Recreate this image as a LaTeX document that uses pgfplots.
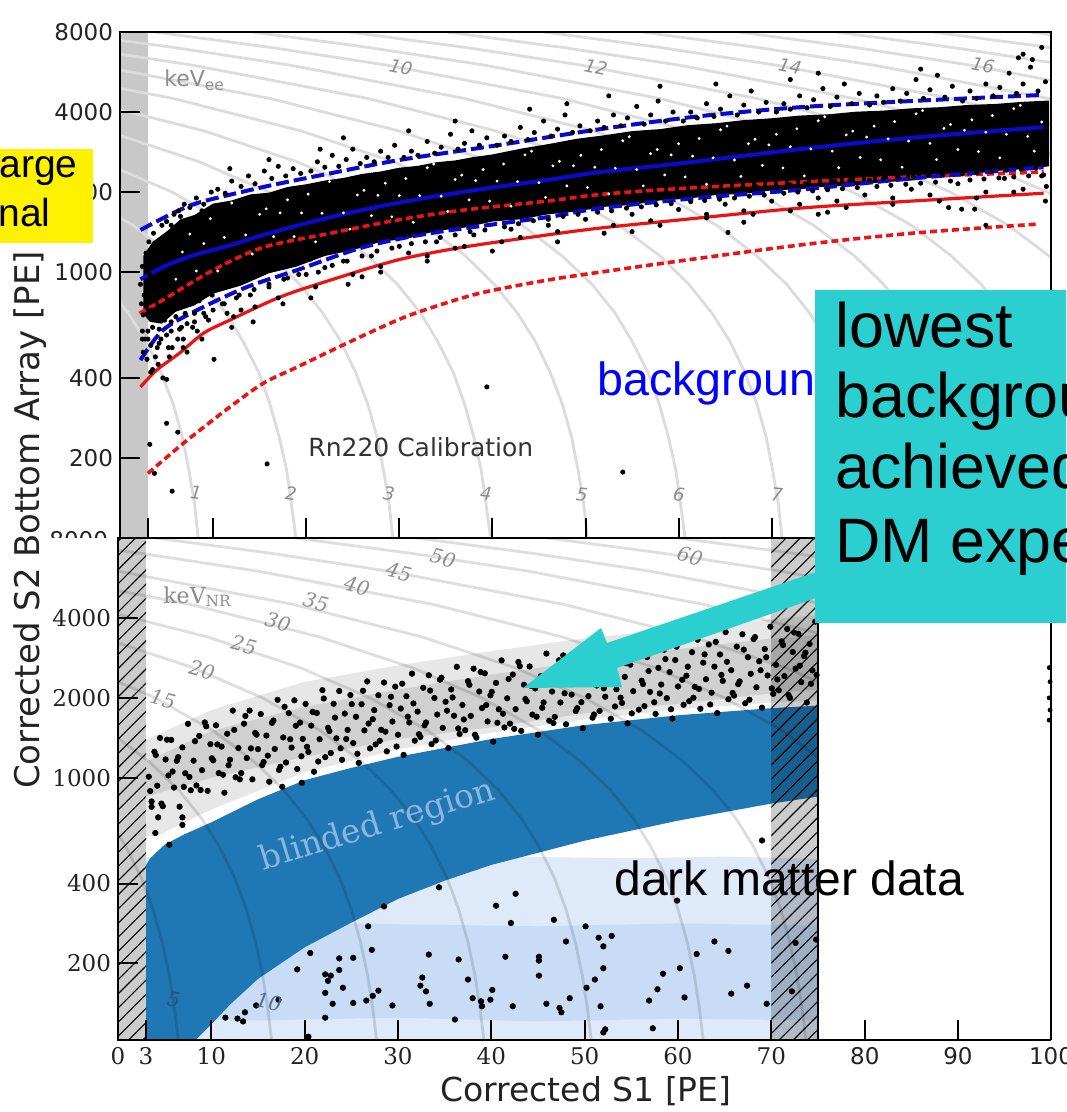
\documentclass[border=0pt]{standalone}
\usepackage{fontspec}
\setmainfont{DejaVu Sans}
\newfontfamily\seriff{DejaVu Serif}
\newfontfamily\arial{Liberation Sans}
\usepackage{pgfplots}
\pgfplotsset{compat=1.18}
\usetikzlibrary{patterns.meta}
\definecolor{cyanbox}{RGB}{44,207,208}
\definecolor{mplblue}{RGB}{31,119,180}
\definecolor{lbout}{RGB}{222,234,249}
\definecolor{lbin}{RGB}{200,221,245}
\definecolor{grout}{RGB}{231,231,231}
\definecolor{grin}{RGB}{208,208,208}
\definecolor{bandgray}{RGB}{200,200,200}
\definecolor{eeline}{RGB}{220,220,220}
\definecolor{bline}{RGB}{10,10,205}
\definecolor{rline}{RGB}{235,20,20}
\definecolor{labgray}{RGB}{140,140,140}
\definecolor{txt}{RGB}{35,35,35}
\definecolor{blindtxt}{RGB}{140,182,222}
\tikzset{nrl/.style={black, opacity=0.13, line width=1.4pt},
         eel/.style={eeline, line width=1.4pt}}
\pgfplotsset{myax/.style={scale only axis, anchor=south west, tick align=inside,
  major tick length=10pt, major tick style={black,line width=1pt},
  axis line style={line width=1pt}, xminorticks=false, yminorticks=false,
  /pgf/number format/assume math mode=true, tick label style={text=txt}}}
\begin{document}
\begin{tikzpicture}[x=0.5pt,y=-0.5pt]
\path[use as bounding box] (0,0) rectangle (1066,1112);
\clip (0,0) rectangle (1066,1112);
% ---------- axis C (right lower frame) ----------
\begin{axis}[myax, at={(60pt,-520pt)}, width=465.5pt, height=251pt,
  xmin=0, xmax=100, ymode=log, ymin=103, ymax=8000,
  axis x line*=bottom, axis y line*=right, ytick=\empty,
  xtick={80,90,100},
  xticklabel style={font=\fontsize{11.5}{13}\selectfont}]
\addplot[only marks, mark=*, mark size=1pt, black] coordinates {(99.8,2600)(99.9,2300)(99.8,2000)(99.9,1800)(99.8,1650)};
\end{axis}
% ---------- axis A (top, Rn220) ----------
\begin{axis}[myax, at={(60pt,-269pt)}, width=465.5pt, height=253pt,
  xmin=0, xmax=100, ymode=log, ymin=100, ymax=8000,
  xtick={3,10,20,30,40,50,60,70,80,90,100}, xticklabels={,,,,,,,,,,},
  ytick={200,400,1000,2000,4000,8000}, yticklabels={200,400,1000,2000,4000,8000},
  xtick pos=bottom, ytick pos=left, axis on top,
  yticklabel style={font=\fontsize{11.5}{13}\selectfont}]
\addplot[fill=bandgray, draw=none] coordinates {(0,100)(3,100)(3,8000)(0,8000)} -- cycle;
\addplot[eel] coordinates {(-15.4,2000)(-9.1,1500)(-4.7,1150)(-1.6,900)(0.9,700)(2.8,550)(4.4,420)(5.7,320)(6.7,240)(7.4,180)(8,135)(8.4,100)};
\addplot[eel] coordinates {(-12.4,2600)(-4.9,2000)(1.4,1500)(5.7,1150)(8.9,900)(11.4,700)(13.2,550)(14.9,420)(16.1,320)(17.1,240)(17.9,180)(18.4,135)(18.9,100)};
\addplot[eel] coordinates {(-12,3400)(-2,2600)(5.6,2000)(11.8,1500)(16.2,1150)(19.3,900)(21.8,700)(23.7,550)(25.3,420)(26.6,320)(27.6,240)(28.3,180)(28.9,135)(29.3,100)};
\addplot[eel] coordinates {(-15.3,4500)(-1.5,3400)(8.5,2600)(16,2000)(22.3,1500)(26.6,1150)(29.8,900)(32.3,700)(34.1,550)(35.8,420)(37,320)(38,240)(38.8,180)(39.3,135)(39.8,100)};
\addplot[eel] coordinates {(-23.6,6000)(-4.8,4500)(9,3400)(19,2600)(26.5,2000)(32.7,1500)(37.1,1150)(40.2,900)(42.7,700)(44.6,550)(46.2,420)(47.5,320)(48.5,240)(49.2,180)(49.8,135)(50.2,100)};
\addplot[eel] coordinates {(-13.1,6000)(5.7,4500)(19.4,3400)(29.4,2600)(36.9,2000)(43.2,1500)(47.5,1150)(50.7,900)(53.2,700)(55,550)(56.7,420)(57.9,320)(58.9,240)(59.7,180)(60.2,135)(60.7,100)};
\addplot[eel] coordinates {(-27.7,8000)(-15.2,7000)(-2.7,6000)(16.1,4500)(29.9,3400)(39.9,2600)(47.4,2000)(53.6,1500)(58,1150)(61.1,900)(63.6,700)(65.5,550)(67.1,420)(68.4,320)(69.4,240)(70.1,180)(70.7,135)(71.1,100)};
\addplot[eel] coordinates {(-17.2,8000)(-4.7,7000)(7.8,6000)(26.6,4500)(40.3,3400)(50.3,2600)(57.8,2000)(64.1,1500)(68.4,1150)(71.6,900)(74.1,700)(75.9,550)(77.6,420)(78.8,320)(79.8,240)(80.6,180)(81.1,135)(81.6,100)};
\addplot[eel] coordinates {(-6.8,8000)(5.75,7000)(18.3,6000)(37,4500)(50.8,3400)(60.8,2600)(68.3,2000)(74.5,1500)(78.9,1150)(82,900)(84.5,700)(86.4,550)(88,420)(89.3,320)(90.3,240)(91,180)(91.6,135)(92,100)};
\addplot[eel] coordinates {(3.7,8000)(16.2,7000)(28.7,6000)(47.5,4500)(61.2,3400)(71.2,2600)(78.7,2000)(85,1500)(89.3,1150)(92.5,900)(95,700)(96.8,550)(98.5,420)(99.7,320)(100.7,240)(101.5,180)(102,135)(102.5,100)};
\addplot[eel] coordinates {(14.2,8000)(26.65,7000)(39.2,6000)(57.9,4500)(71.7,3400)(81.7,2600)(89.2,2000)(95.4,1500)(99.8,1150)(102.9,900)(105.4,700)};
\addplot[eel] coordinates {(24.6,8000)(37.1,7000)(49.6,6000)(68.4,4500)(82.1,3400)(92.1,2600)(99.6,2000)(105.9,1500)(110.2,1150)};
\addplot[eel] coordinates {(35.1,8000)(47.55,7000)(60.1,6000)(78.8,4500)(92.6,3400)(102.6,2600)(110.1,2000)};
\addplot[eel] coordinates {(45.5,8000)(58,7000)(70.5,6000)(89.3,4500)(103,3400)(113,2600)};
\addplot[eel] coordinates {(56,8000)(68.45,7000)(81,6000)(99.7,4500)(113.5,3400)};
\addplot[eel] coordinates {(66.4,8000)(78.9,7000)(91.4,6000)(110.2,4500)};
\addplot[eel] coordinates {(76.9,8000)(89.35,7000)(101.9,6000)};
\addplot[eel] coordinates {(87.3,8000)(99.8,7000)(112.3,6000)};
\addplot[eel] coordinates {(97.8,8000)(110.25,7000)(122.8,6000)};
% dense core of the ER band
\addplot[fill=black, draw=none] coordinates {(2.5,1150)(3.5,1300)(5,1420)(6.5,1580)(8,1640)(10,1810)(12,1860)(14,1960)(16,1990)(18,2090)(20,2140)(22,2210)(24,2260)(26,2340)(28,2390)(30,2470)(32,2510)(34,2590)(36,2630)(38,2710)(40,2770)(43,2910)(46,3030)(49,3170)(52,3270)(55,3390)(58,3450)(61,3570)(64,3630)(67,3730)(70,3790)(73,3880)(76,3920)(79,4010)(82,4050)(85,4130)(88,4170)(91,4250)(94,4290)(97,4370)(99.8,4420)
(99.8,2500)(97,2440)(94,2400)(91,2320)(88,2290)(85,2210)(82,2180)(79,2120)(76,2100)(73,2050)(70,2030)(67,1970)(64,1950)(61,1890)(58,1860)(55,1790)(52,1760)(49,1690)(46,1650)(43,1580)(40,1550)(37,1470)(34,1430)(31,1340)(28,1300)(25,1210)(22,1150)(19,1050)(16,990)(13,890)(10,830)(8,750)(6,710)(4.5,640)(3.2,650)(2.5,700)} -- cycle;
% white gaps inside the dense core
\addplot[only marks, mark=*, mark size=0.5pt, white] coordinates {
(6,940)(7.5,1390)(9,1280)(10.5,1010)(12,1820)(13.5,1380)(15,1650)(16.5,1360)(18,1870)(19.5,1670)(21,1300)(22.5,2190)(24,1670)(25.5,1950)(27,1630)(28.5,2160)(30,1940)(31.5,1540)(33,2470)(34.5,1930)(36,2230)(37.5,1870)(39,2430)(40.5,2200)(42,1770)(43.5,2760)(45,2170)(46.5,2510)(48,2110)(49.5,2750)(51,2480)(52.5,1970)(54,3120)(55.5,2430)(57,2790)(58.5,2320)(60,3040)(61.5,2730)(63,2140)(64.5,3430)(66,2640)(67.5,3040)(69,2520)(70.5,3300)(72,2960)(73.5,2300)(75,3710)(76.5,2850)(78,3280)(79.5,2700)(81,3540)(82.5,3170)(84,2480)(85.5,3940)(87,3050)(88.5,3470)(90,2890)(91.5,3740)(93,3360)(94.5,2690)(96,4120)(97.5,3240)(99,3670)
(6.7,1190)(8.2,1010)(9.7,1590)(11.2,1350)(12.7,1930)(14.2,1170)(15.7,1730)(17.2,1670)(18.7,1360)(20.2,1965)(21.7,1665)(23.2,2265)(24.7,1450)(26.2,2030)(27.7,1945)(29.2,1615)(30.7,2250)(32.2,1940)(33.7,2550)(35.2,1690)(36.7,2315)(38.2,2210)(39.7,1850)(41.2,2550)(42.7,2190)(44.2,2850)(45.7,1910)(47.2,2610)(48.7,2510)(50.2,2080)(51.7,2890)(53.2,2460)(54.7,3230)(56.2,2110)(57.7,2890)(59.2,2760)(60.7,2280)(62.2,3180)(63.7,2690)(65.2,3540)(66.7,2290)(68.2,3160)(69.7,3010)(71.2,2465)(72.7,3460)(74.2,2905)(75.7,3840)(77.2,2470)(78.7,3390)(80.2,3220)(81.7,2645)(83.2,3680)(84.7,3110)(86.2,4050)(87.7,2650)(89.2,3590)(90.7,3420)(92.2,2840)(93.7,3880)(95.2,3300)(96.7,4240)(98.2,2850)};
% scattered events
\addplot[only marks, mark=*, mark size=1.05pt, black] coordinates {
(2.2,900)(2.4,1050)(2.3,760)(2.6,820)(2.8,1180)(2.5,690)(3.0,600)(3.2,980)(3.1,1300)(2.7,560)(3.4,720)(3.6,1400)(3.3,530)(3.8,480)(4.0,1150)(4.2,610)(4.5,1500)(4.4,560)(4.8,660)(5.0,1550)(5.2,520)(5.5,600)(5.8,1650)(6.0,680)(6.3,1700)(6.6,620)(4.1,450)(2.9,470)(3.5,430)(2.4,600)
(2.4,560)(4.6,400)(5.0,395)(10.1,470)(5.0,270)(6.2,250)(3.2,225)(3.7,175)(5.6,150)(15.8,190)(39.4,370)(54,177)(14.3,650)(12.2,680)(7.2,500)(8.3,600)(3.3,420)(4.0,520)
(5.5,1500)(6.5,1620)(7.5,1750)(8.2,1900)(9,1800)(9.8,2000)(8.8,1700)(6.9,1800)
(10.5,2050)(11.3,1980)(12,2200)(13,2100)(13.8,2300)(14.5,2150)(15.5,2400)(16.3,2250)(17,2500)(17.8,2300)(18.6,2450)(19.4,2350)(11.8,2450)(16,2650)
(20.5,2400)(21.2,2600)(22,2480)(22.8,2750)(23.5,2500)(24.3,2650)(25,2900)(25.8,2560)(26.5,2700)(27.3,2600)(28,2850)(28.8,2700)(29.5,3000)(21.5,2900)(24,3200)
(30.5,2700)(31.3,2850)(32,2750)(33,3100)(33.8,2800)(34.5,2950)(35.5,3300)(36.3,2900)(37,3050)(37.8,3400)(38.6,3000)(39.4,3200)(31,3400)(36,3700)
(40.5,3000)(41.3,3250)(42,3100)(43,3500)(43.8,3150)(44.5,3350)(45.5,3700)(46.3,3250)(47,3450)(47.8,3900)(48.6,3350)(49.4,3550)(44,4100)(48,4300)
(50.5,3400)(51.3,3700)(52,3500)(53,3900)(53.8,3550)(54.5,3800)(55.5,4200)(56.3,3600)(57,3900)(57.8,4400)(58.6,3700)(59.4,4000)(52.5,4600)(58,5000)
(60.5,3700)(61.3,4000)(62,3800)(63,4300)(63.8,3850)(64.5,4100)(65.5,4600)(66.3,3900)(67,4250)(67.8,4800)(68.6,4000)(69.4,4350)(64,5100)
(70.5,4000)(71.3,4300)(72,4100)(73,4600)(73.8,4150)(74.5,4450)(75.5,4900)(76.3,4200)(77,4550)(77.8,5100)(78.6,4300)(79.4,4700)(75,5600)(72,5300)
(80.5,4250)(81.3,4600)(82,4350)(83,4900)(83.8,4400)(84.5,4700)(85.5,5300)(86.3,4500)(87,4850)(87.8,5500)(88.6,4550)(89.4,5000)(86,5800)
(90.5,4400)(91.3,4800)(92,4500)(93,5100)(93.8,4600)(94.5,4950)(95.5,5600)(96.3,4700)(97,5100)(97.8,5900)(98.6,4800)(99.4,5200)(96.5,6400)(98,6300)(99,7000)(97,6600)
(5.5,650)(6.2,560)(7,700)(7.8,620)(8.5,780)(9.2,680)(9.9,820)(6.8,520)(8,700)
(10.5,880)(11.2,760)(12,900)(12.8,820)(13.6,980)(14.4,860)(15.2,1000)(16,900)(16.8,1060)(17.6,940)(18.4,1100)(19.2,980)(13,720)(17,800)
(20.5,1120)(21.3,1000)(22,1180)(22.8,1060)(23.6,1230)(24.4,1100)(25.2,1280)(26,1150)(26.8,1320)(27.6,1200)(28.4,1350)(29.2,1230)(21,880)(25,980)(28,1050)
(30.5,1380)(31.3,1280)(32,1420)(32.8,1300)(33.6,1450)(34.4,1350)(35.2,1500)(36,1380)(36.8,1520)(37.6,1420)(38.4,1560)(39.2,1440)(33,1150)(37,1250)
(40.5,1600)(41.3,1480)(42,1640)(42.8,1520)(43.6,1680)(44.4,1560)(45.2,1700)(46,1580)(46.8,1740)(47.6,1620)(48.4,1760)(49.2,1650)(43,1350)(47,1420)(41,1300)
(50.5,1780)(51.3,1680)(52,1820)(52.8,1700)(53.6,1860)(54.4,1740)(55.2,1880)(56,1760)(56.8,1920)(57.6,1790)(58.4,1940)(59.2,1810)(53,1500)(57,1560)(55,1420)
(60.5,1950)(61.3,1840)(62,1990)(62.8,1860)(63.6,2020)(64.4,1880)(65.2,2040)(66,1900)(66.8,2070)(67.6,1930)(68.4,2090)(69.2,1950)(63,1650)(67,1700)(65.3,1410)(67,1540)
(70.5,2100)(71.3,1980)(72,2130)(72.8,2000)(73.6,2150)(74.4,2020)(75.2,2170)(76,2040)(76.8,2190)(77.6,2060)(78.4,2210)(79.2,2080)(73,1800)(77,1850)(75,1650)(76,1680)
(80.5,2220)(81.3,2100)(82,2250)(82.8,2120)(83.6,2270)(84.4,2140)(85.2,2290)(86,2160)(86.8,2310)(87.6,2180)(88.4,2330)(89.2,2200)(83,1900)(87,1950)(89,1750)
(90.5,2340)(91.3,2220)(92,2370)(92.8,2240)(93.6,2400)(94.4,2260)(95.2,2420)(96,2280)(96.8,2440)(97.6,2300)(98.4,2460)(99.2,2320)(93,2000)(97,2050)(99.5,2100)(90.4,1725)(91.8,1725)(93,1500)(99.4,1850)
(2.5,500)(3,560)(3.5,620)(4.2,540)(5,580)(5.6,520)(6.4,610)(7.2,640)(8,650)(9,700)(10,720)(11,760)(12.5,800)(14,820)(16,880)(18,950)(20,980)(22,1040)(24,1100)(27,1150)(30,1250)(34,1300)(38,1380)(42,1450)(46,1500)(50,1580)(55,1650)(60,1720)(65,1800)(70,1850)(75,1900)(80,1950)(85,2050)(90,2150)(95,2250)(99,2300)
(8.8,560)(12,620)(17.5,760)(20.5,800)(24.5,900)(28,1000)(33,1100)(40,1200)(47,1300)(52,1400)(58,1500)(63,1600)(68,1650)(72,1700)(78,1750)(83,1800)(88,1850)(92,1900)(96,2000)(9.5,660)(14.5,740)(5.3,480)(6.8,560)(11.5,700)(26,960)(31,1180)(36,1230)};
% bands
\addplot[rline, line width=1.6pt, smooth] coordinates {(2.2,370)(4,430)(6.4,496)(9,590)(11.8,660)(17.2,806)(22.6,933)(29.8,1110)(36.8,1240)(45.9,1380)(51.6,1465)(60,1570)(73,1740)(85,1850)(99.2,1980)};
\addplot[rline, line width=1.8pt, dash pattern=on 3.5pt off 2pt, smooth] coordinates {(2.1,700)(4.6,785)(10,1017)(15.4,1240)(22.6,1400)(29.8,1570)(36.8,1710)(45.9,1850)(51.6,1960)(60,2060)(73,2180)(85,2280)(99.2,2380)};
\addplot[rline, line width=1.8pt, dash pattern=on 3.5pt off 2pt, smooth] coordinates {(3,175)(6.8,227)(11.8,311)(15.4,382)(19,439)(24.4,541)(29.8,660)(33.3,732)(38.7,834)(45.9,933)(51.6,1000)(60,1100)(73,1264)(85,1400)(98.5,1515)};
\addplot[bline, line width=2pt, smooth] coordinates {(2.2,940)(5,1060)(8,1160)(11.8,1260)(16,1400)(22.6,1610)(28,1770)(33.3,1914)(40,2080)(45.9,2220)(51.6,2380)(60,2560)(73,2900)(85,3200)(99.2,3510)};
\addplot[bline, line width=2pt, dash pattern=on 6.5pt off 2.5pt, smooth] coordinates {(2.2,1440)(5,1620)(8.3,1818)(15.4,2090)(22,2330)(30,2640)(40,2980)(51.6,3450)(62,3850)(73,4170)(85,4400)(99.2,4640)};
\addplot[bline, line width=2pt, dash pattern=on 6.5pt off 2.5pt, smooth] coordinates {(2.2,467)(4.6,605)(8.3,720)(13.6,878)(19,1017)(26.1,1240)(33.3,1400)(45.9,1610)(51.6,1740)(62,1900)(73,2040)(85,2250)(99.2,2480)};
\end{axis}
% ---------- axis B (bottom, DM data) ----------
\begin{axis}[myax, at={(59pt,-520pt)}, width=350pt, height=251pt,
  xmin=0, xmax=75, ymode=log, ymin=103, ymax=8000,
  axis background/.style={fill=white},
  xtick={0,3,10,20,30,40,50,60,70}, xticklabels={0,3,10,20,30,40,50,60,70},
  ytick={200,400,1000,2000,4000}, yticklabels={200,400,1000,2000,4000},
  xtick pos=bottom, ytick pos=left, axis on top,
  tick label style={font=\seriff\fontsize{11.5}{13}\selectfont}]
\addplot[fill=lbout, draw=none] coordinates {(3,103)(75,103)(75,495)(65,505)(55,498)(45,503)(35,499)(25,502)(15,498)(3,500)} -- cycle;
\addplot[fill=lbin, draw=none] coordinates {(3,124)(15,122)(30,125)(45,121)(60,124)(75,122)(75,278)(60,283)(45,276)(30,281)(15,286)(3,285)} -- cycle;
\addplot[fill=grout, draw=none] coordinates {(3,1390)(10,1800)(20,2300)(30,2650)(40,3000)(50,3350)(60,3650)(70,3950)(75,4100)(75,1960)(70,1920)(60,1810)(50,1660)(40,1480)(30,1280)(20,1050)(10,760)(6,650)(4.5,610)(3,600)} -- cycle;
\addplot[fill=grin, draw=none] coordinates {(3,1150)(10,1500)(20,1850)(30,2150)(40,2450)(50,2750)(60,3050)(70,3350)(75,3450)(75,2150)(70,2080)(60,1900)(50,1750)(40,1550)(30,1400)(20,1200)(10,1000)(3,850)} -- cycle;
\addplot[fill=mplblue, draw=none] coordinates {(3,470)(3.5,500)(4,520)(5,560)(7,610)(10,680)(15,830)(20,980)(25,1090)(30,1200)(40,1400)(50,1580)(60,1720)(70,1830)(75,1870)(75,850)(70,800)(60,690)(50,580)(40,470)(35,410)(30,350)(25,285)(20,230)(15,175)(12,140)(10,118)(8.3,103)(3,103)} -- cycle;
\addplot[nrl] coordinates {(-17.3,2000)(-11,1500)(-6.6,1150)(-3.5,900)(-1,700)(0.85,550)(2.5,420)(3.75,320)(4.75,240)(5.5,180)(6.05,135)(6.5,100)};
\addplot[nrl] coordinates {(-7.3,2000)(-1,1500)(3.35,1150)(6.5,900)(9,700)(10.85,550)(12.5,420)(13.75,320)(14.75,240)(15.5,180)(16.05,135)(16.5,100)};
\addplot[nrl] coordinates {(-13.5,3400)(-3.5,2600)(4,2000)(10.25,1500)(14.6,1150)(17.75,900)(20.25,700)(22.1,550)(23.75,420)(25,320)(26,240)(26.75,180)(27.3,135)(27.75,100)};
\addplot[nrl] coordinates {(-15.75,4500)(-2,3400)(8,2600)(15.5,2000)(21.75,1500)(26.1,1150)(29.25,900)(31.75,700)(33.6,550)(35.25,420)(36.5,320)(37.5,240)(38.25,180)(38.8,135)(39.25,100)};
\addplot[nrl] coordinates {(-23,6000)(-4.25,4500)(9.5,3400)(19.5,2600)(27,2000)(33.25,1500)(37.6,1150)(40.75,900)(43.25,700)(45.1,550)(46.75,420)(48,320)(49,240)(49.75,180)(50.3,135)(50.75,100)};
\addplot[nrl] coordinates {(-11,6000)(7.75,4500)(21.5,3400)(31.5,2600)(39,2000)(45.25,1500)(49.6,1150)(52.75,900)(55.25,700)(57.1,550)(58.75,420)(60,320)(61,240)(61.75,180)(62.3,135)(62.75,100)};
\addplot[nrl] coordinates {(-12.5,7000)(0,6000)(18.75,4500)(32.5,3400)(42.5,2600)(50,2000)(56.25,1500)(60.6,1150)(63.75,900)(66.25,700)(68.1,550)(69.75,420)(71,320)(72,240)(72.75,180)(73.3,135)(73.75,100)};
\addplot[nrl] coordinates {(-10,8000)(2.5,7000)(15,6000)(33.75,4500)(47.5,3400)(57.5,2600)(65,2000)(71.25,1500)(75.6,1150)(78.75,900)};
\addplot[nrl] coordinates {(4,8000)(16.5,7000)(29,6000)(47.75,4500)(61.5,3400)(71.5,2600)(79,2000)};
\addplot[nrl] coordinates {(19,8000)(31.5,7000)(44,6000)(62.75,4500)(76.5,3400)};
\addplot[nrl] coordinates {(32,8000)(44.5,7000)(57,6000)(75.75,4500)};
\addplot[nrl] coordinates {(46,8000)(58.5,7000)(71,6000)(89.75,4500)};
\addplot[nrl] coordinates {(60,8000)(72.5,7000)(85,6000)};
\addplot[nrl] coordinates {(74,8000)(86.5,7000)};
\addplot[only marks, mark=*, mark size=1.35pt, black] coordinates {
(3.3,1010)(3.6,815)(3.9,1254)(4.2,934)(4.5,1413)(4.8,782)(5.1,1173)(5.4,1021)(5.7,1389)(6.0,919)(6.3,1159)(6.6,779)(6.9,1302)(7.2,1041)(7.5,1597)(7.8,898)(8.1,1160)(8.4,936)(8.7,1438)(9.0,1069)(9.3,1617)(9.6,893)(9.9,1339)(10.2,1164)(10.5,1578)(10.8,1042)(11.1,1311)(11.4,879)(11.7,1466)(12.0,1170)(12.3,1792)(12.6,1005)(12.9,1295)(13.2,1042)(13.5,1599)(13.8,1187)(14.1,1791)(14.4,987)(14.7,1476)(15.0,1283)(15.3,1738)(15.6,1147)(15.9,1442)(16.2,967)(16.5,1611)(16.8,1285)(17.1,1967)(17.4,1101)(17.7,1420)(18.0,1142)(18.3,1752)(18.6,1300)(18.9,1959)(19.2,1080)(19.5,1614)(19.8,1401)(20.1,1898)(20.4,1252)(20.7,1573)(21.0,1054)(21.3,1755)(21.6,1398)(21.9,2139)(22.2,1197)(22.5,1543)(22.8,1240)(23.1,1901)(23.4,1409)(23.7,2123)(24.0,1169)(24.3,1746)(24.6,1515)(24.9,2051)(25.2,1352)(25.5,1698)(25.8,1138)(26.1,1894)(26.4,1509)(26.7,2307)(27.0,1291)(27.3,1663)(27.6,1336)(27.9,2047)(28.2,1517)(28.5,2285)(28.8,1258)(29.1,1878)(29.4,1629)(29.7,2205)(30.0,1453)(30.3,1823)(30.6,1220)(30.9,2030)(31.2,1616)(31.5,2468)(31.8,1380)(32.1,1776)(32.4,1426)(32.7,2183)(33.0,1616)(33.3,2434)(33.6,1339)(33.9,1998)(34.2,1731)(34.5,2341)(34.8,1542)(35.1,1934)(35.4,1294)(35.7,2152)(36.0,1713)(36.3,2617)(36.6,1463)(36.9,1882)(37.2,1511)(37.5,2312)(37.8,1711)(38.1,2576)(38.4,1417)(38.7,2114)(39.0,1832)(39.3,2476)(39.6,1631)(39.9,2045)(40.2,1369)(40.5,2277)(40.8,1812)(41.1,2769)(41.4,1548)(41.7,1993)(42.0,1600)(42.3,2449)(42.6,1814)(42.9,2730)(43.2,1502)(43.5,2241)(43.8,1943)(44.1,2627)(44.4,1730)(44.7,2171)(45.0,1453)(45.3,2416)(45.6,1923)(45.9,2937)(46.2,1642)(46.5,2113)(46.8,1696)(47.1,2596)(47.4,1922)(47.7,2892)(48.0,1591)(48.3,2373)(48.6,2057)(48.9,2781)(49.2,1831)(49.5,2297)(49.8,1537)(50.1,2554)(50.4,2031)(50.7,3100)(51.0,1732)(51.3,2226)(51.6,1786)(51.9,2730)(52.2,2020)(52.5,3038)(52.8,1669)(53.1,2488)(53.4,2155)(53.7,2911)(54.0,1915)(54.3,2400)(54.6,1604)(54.9,2666)(55.2,2120)(55.5,3234)(55.8,1806)(56.1,2322)(56.4,1862)(56.7,2847)(57.0,2106)(57.3,3167)(57.6,1740)(57.9,2594)(58.2,2246)(58.5,3034)(58.8,1996)(59.1,2501)(59.4,1672)(59.7,2777)(60.0,2208)(60.3,3371)(60.6,1884)(60.9,2423)(61.2,1944)(61.5,2974)(61.8,2201)(62.1,3311)(62.4,1820)(62.7,2714)(63.0,2351)(63.3,3178)(63.6,2092)(63.9,2622)(64.2,1754)(64.5,2915)(64.8,2318)(65.1,3539)(65.4,1977)(65.7,2543)(66.0,2040)(66.3,3120)(66.6,2309)(66.9,3473)(67.2,1909)(67.5,2846)(67.8,2465)(68.1,3331)(68.4,2192)(68.7,2748)(69.0,1838)(69.3,3054)(69.6,2429)(69.9,3707)(70.2,2071)(70.5,2663)(70.8,2136)(71.1,3267)(71.4,2417)(71.7,3635)(72.0,1998)(72.3,2978)(72.6,2579)(72.9,3485)(73.2,2293)(73.5,2874)(73.8,1921)(74.1,3193)(74.4,2539)(74.7,3875)
(3.45,892)(4.05,1219)(4.65,800)(5.25,1392)(5.85,1056)(6.45,1197)(7.05,924)(7.65,1008)(8.25,1375)(8.85,900)(9.45,1564)(10.05,1185)(10.65,1336)(11.25,1027)(11.85,1116)(12.45,1515)(13.05,987)(13.65,1710)(14.25,1291)(14.85,1454)(15.45,1117)(16.05,1212)(16.65,1644)(17.25,1071)(17.85,1851)(18.45,1397)(19.05,1571)(19.65,1206)(20.25,1308)(20.85,1771)(21.45,1152)(22.05,1990)(22.65,1500)(23.25,1686)(23.85,1292)(24.45,1400)(25.05,1895)(25.65,1232)(26.25,2127)(26.85,1601)(27.45,1799)(28.05,1378)(28.65,1492)(29.25,2019)(29.85,1312)(30.45,2262)(31.05,1700)(31.65,1907)(32.25,1460)(32.85,1578)(33.45,2131)(34.05,1382)(34.65,2382)(35.25,1790)(35.85,2008)(36.45,1535)(37.05,1659)(37.65,2240)(38.25,1453)(38.85,2502)(39.45,1880)(40.05,2107)(40.65,1612)(41.25,1744)(41.85,2356)(42.45,1529)(43.05,2634)(43.65,1980)(44.25,2221)(44.85,1699)(45.45,1836)(46.05,2480)(46.65,1608)(47.25,2771)(47.85,2082)(48.45,2334)(49.05,1785)(49.65,1928)(50.25,2602)(50.85,1685)(51.45,2898)(52.05,2174)(52.65,2433)(53.25,1857)(53.85,2004)(54.45,2701)(55.05,1749)(55.65,3007)(56.25,2255)(56.85,2524)(57.45,1926)(58.05,2078)(58.65,2800)(59.25,1813)(59.85,3116)(60.45,2339)(61.05,2620)(61.65,2002)(62.25,2161)(62.85,2916)(63.45,1889)(64.05,3251)(64.65,2441)(65.25,2734)(65.85,2088)(66.45,2254)(67.05,3040)(67.65,1969)(68.25,3388)(68.85,2542)(69.45,2847)(70.05,2174)(70.65,2346)(71.25,3164)(71.85,2049)(72.45,3524)(73.05,2644)(73.65,2960)(74.25,2260)(74.85,2438)
(3.6,778)(4.3,710)(6.9,710)(6.9,665)(17.6,925)(19.7,958)(4.0,620)(5.5,560)
(28.5,328)(26.8,276)(27.2,225)(20.6,219)(23.7,209)(25.2,210)(19.2,190)(23.7,189)(22.2,182)(22.8,180)(22.5,172)(24.1,162)(22.2,155)(27.9,158)(27.3,151)(17.2,146)(14.8,139)(23.0,141)(25.2,142)(26.6,145)(29.4,139)(13.6,131)(11.5,125)(12.8,124)(13.4,121)(22.2,125)(20.4,106)
(69.0,581)(34.4,387)(42.6,366)(40.5,330)(59.9,345)(42.1,284)(46.7,292)(50.1,276)(51.5,250)(52.9,254)(52.0,232)(48.0,242)(63.9,242)(65.4,223)(62.0,217)(33.3,216)(36.5,207)(41.5,212)(45.1,212)(45.1,205)(52.0,192)(60.2,192)(32.6,177)(37.5,174)(45.1,180)(58.4,183)(51.1,174)(32.4,165)(33.0,157)(40.1,159)(50.2,162)(57.8,160)(67.4,165)(65.7,154)(38.0,148)(38.9,144)(39.9,146)(48.4,148)(60.7,149)(33.4,141)(39.0,138)(42.3,138)(45.9,141)(47.3,136)(47.5,131)(51.7,138)(56.9,145)(69.5,141)(36.1,123)(52.2,113)(52.0,110)(57.3,114)(72.2,157)(72.6,239)(74.8,246)};
% hatched exclusion regions
\addplot[fill=black, fill opacity=0.2, draw=none] coordinates {(0,103)(3,103)(3,8000)(0,8000)} -- cycle;
\addplot[fill=black, fill opacity=0.2, draw=none] coordinates {(70,103)(75,103)(75,8000)(70,8000)} -- cycle;
\addplot[draw=none, pattern={Lines[angle=45,distance=5pt,line width=0.55pt]}, pattern color=black] coordinates {(0,103)(3,103)(3,8000)(0,8000)} -- cycle;
\addplot[draw=none, pattern={Lines[angle=45,distance=5pt,line width=0.55pt]}, pattern color=black] coordinates {(70,103)(75,103)(75,8000)(70,8000)} -- cycle;
\end{axis}
% ---------- texts in the panels ----------
\begin{scope}
\clip (40,500) rectangle (118,537.5);
\node[anchor=east, text=txt, font=\fontsize{11.5}{13}\selectfont] at (115,540) {8000};
\end{scope}
\node[anchor=base west, inner sep=0, text=labgray, font=\fontsize{11}{12}\selectfont] at (164,87) {keV\textsubscript{ee}};
\node[anchor=base west, inner sep=0, text=black!80, font=\fontsize{12.5}{14}\selectfont] at (308,456) {Rn220 Calibration};
\begin{scope}[every node/.style={text=labgray, font=\itshape\fontsize{9}{10}\selectfont}]
\node[rotate=-6] at (196,493) {1};
\node[rotate=-6] at (291,493) {2};
\node[rotate=-6] at (389,494) {3};
\node[rotate=-6] at (486,494) {4};
\node[rotate=-6] at (582,495) {5};
\node[rotate=-6] at (679,495) {6};
\node[rotate=-6] at (777,495) {7};
\node[rotate=-12] at (401,67) {10};
\node[rotate=-12] at (596,67) {12};
\node[rotate=-12] at (790,66) {14};
\node[rotate=-12] at (983,65) {16};
\end{scope}
\node[anchor=base west, inner sep=0, text=labgray, font=\seriff\fontsize{11}{12}\selectfont] at (163,603) {keV\textsubscript{NR}};
\begin{scope}[every node/.style={text=labgray, font=\seriff\itshape\fontsize{10}{11}\selectfont}]
\node[rotate=-15] at (163,699) {15};
\node[rotate=-15] at (202,670) {20};
\node[rotate=-15] at (244,645) {25};
\node[rotate=-15] at (278,622) {30};
\node[rotate=-15] at (316,602) {35};
\node[rotate=-15] at (357,586) {40};
\node[rotate=-15] at (399,572) {45};
\node[rotate=-15] at (443,558) {50};
\node[rotate=-15] at (690,556) {60};
\node[rotate=-10, text={rgb,255:red,45;green,80;blue,115}] at (174,1000) {5};
\node[rotate=-10, text={rgb,255:red,80;green,110;blue,145}] at (269,1002) {10};
\end{scope}
\node[rotate=17, text=blindtxt, font=\seriff\fontsize{16.5}{18}\selectfont] at (378,826) {blinded region};
% axis titles
\node[rotate=90, text=txt, font=\fontsize{17}{18}\selectfont] at (30,520) {Corrected S2 Bottom Array [PE]};
\node[text=txt, font=\fontsize{16.5}{18}\selectfont] at (586,1091) {Corrected S1 [PE]};
% ---------- slide overlays ----------
\node[anchor=base west, inner sep=0, text=blue, font=\arial\fontsize{23.3}{26}\selectfont] at (597,395) {background};
\node[anchor=base west, inner sep=0, text=black, font=\arial\fontsize{24}{26}\selectfont] at (614,895) {dark matter data};
\fill[cyanbox] (523,688) -- (601,628) -- (607,643) -- (816,572) -- (816,598) -- (617,668) -- (622,687) -- cycle;
\fill[cyanbox] (815,290) rectangle (1070,623);
\begin{scope}[every node/.style={anchor=base west, inner sep=0, text=black, font=\arial\fontsize{31.4}{36}\selectfont}]
\node at (835,347) {lowest};
\node at (835,417) {background};
\node at (835,488) {achieved};
\node at (835,562) {DM experiment};
\end{scope}
\fill[yellow] (0,149) rectangle (93,243);
\node[anchor=base west, inner sep=0, text=black, font=\arial\fontsize{19.5}{22}\selectfont] at (-1,178) {arge};
\node[anchor=base west, inner sep=0, text=black, font=\arial\fontsize{19.5}{22}\selectfont] at (-2,227) {nal};
\end{tikzpicture}
\end{document}
